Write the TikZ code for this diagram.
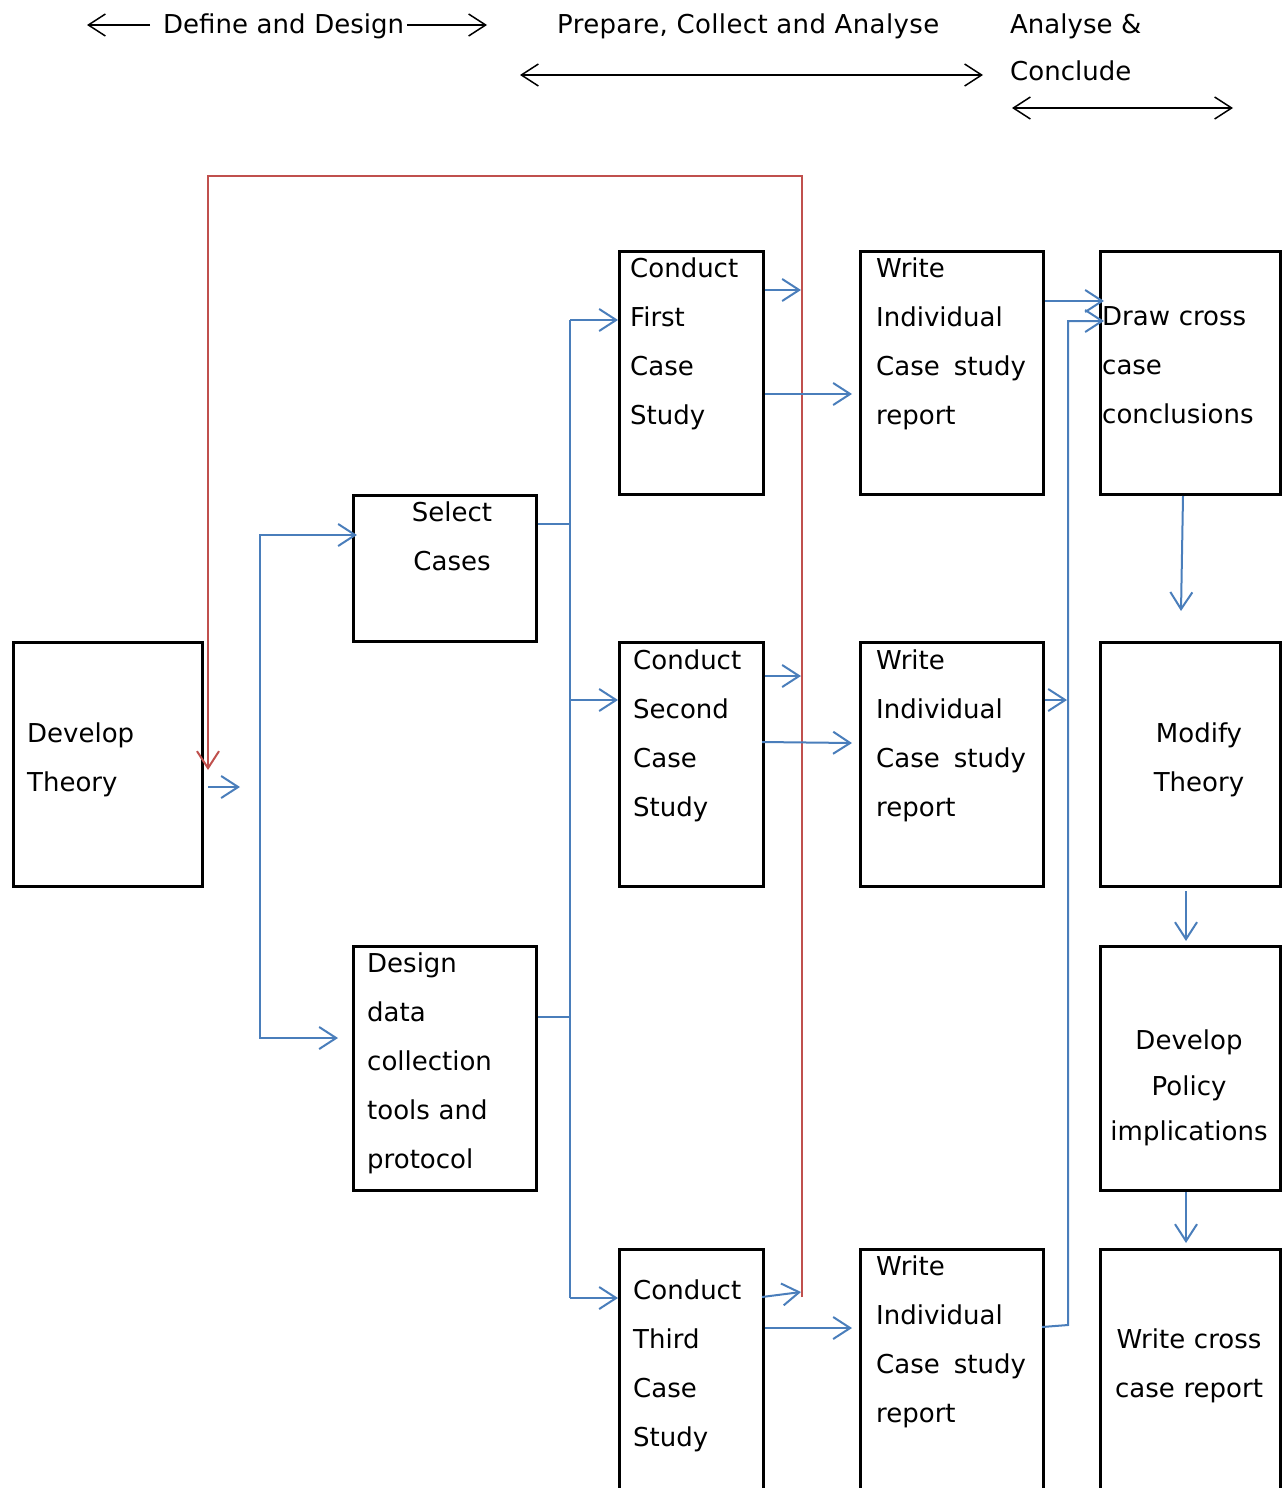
\documentclass[tikz,border=0pt]{standalone}
\usepackage{fontspec}
\setmainfont{DejaVu Sans}
\usetikzlibrary{arrows.meta}

\definecolor{flowblue}{RGB}{74,126,187}
\definecolor{loopred}{RGB}{192,80,77}

\tikzset{
  stage/.style={draw=black, line width=2.5pt, inner sep=0pt, anchor=north west},
  txt/.style={inner sep=0pt, anchor=base west, text width=210pt, align=left,
              font=\fontsize{26}{49}\selectfont},
  ctxt/.style={inner sep=0pt, anchor=base, text width=200pt, align=center,
               font=\fontsize{26}{49}\selectfont},
  head/.style={inner sep=0pt, anchor=base west, text width=420pt, align=left,
               font=\fontsize{26}{47}\selectfont},
  barb/.style={-{Straight Barb[length=17pt,width=22pt]}},
  link/.style={draw=flowblue, line width=2pt},
  flow/.style={link, barb},
  feedback/.style={draw=loopred, line width=2pt, barb},
  phase/.style={draw=black, line width=1.5pt},
  phasearrow/.style={phase, barb},
  phasespan/.style={phase, {Straight Barb[length=17pt,width=22pt]}-{Straight Barb[length=17pt,width=22pt]}},
}

\newcommand{\cs}{Case\hspace{14pt}study}

\begin{document}
\begin{tikzpicture}[x=1pt, y=-1pt]
\useasboundingbox (0,0) rectangle (1285,1488);
\clip (0,0) rectangle (1285,1488);

% ---------- phase headings ----------
\node[head] (ph1) at (163,33.5) {Define and Design};
\coordinate (ph1L1) at (150,25);  \coordinate (ph1L2) at (87,25);
\coordinate (ph1R1) at (407,25);  \coordinate (ph1R2) at (487,25);
\draw[phasearrow] (ph1L1) -- (ph1L2);
\draw[phasearrow] (ph1R1) -- (ph1R2);

\node[head] (ph2) at (557,33.5) {\addfontfeature{LetterSpace=1.4}Prepare, Collect and Analyse};
\coordinate (ph2A) at (520,75); \coordinate (ph2B) at (983,75);
\draw[phasespan] (ph2A) -- (ph2B);

\node[head] (ph3) at (1010,33.5) {Analyse \&\\Conclude};
\coordinate (ph3A) at (1012,108); \coordinate (ph3B) at (1233,108);
\draw[phasespan] (ph3A) -- (ph3B);

% ---------- boxes ----------
\node[stage, minimum width=189pt, minimum height=244pt] (dt) at (12,641) {};
\node[stage, minimum width=183pt, minimum height=146pt] (sc) at (352,494) {};
\node[stage, minimum width=183pt, minimum height=244pt] (dd) at (352,945) {};
\node[stage, minimum width=144pt, minimum height=243pt] (c1) at (618,250) {};
\node[stage, minimum width=144pt, minimum height=244pt] (c2) at (618,641) {};
\node[stage, minimum width=144pt, minimum height=260pt] (c3) at (618,1248) {};
\node[stage, minimum width=183pt, minimum height=243pt] (w1) at (859,250) {};
\node[stage, minimum width=183pt, minimum height=244pt] (w2) at (859,641) {};
\node[stage, minimum width=183pt, minimum height=260pt] (w3) at (859,1248) {};
\node[stage, minimum width=180pt, minimum height=243pt] (dc) at (1099,250) {};
\node[stage, minimum width=180pt, minimum height=244pt] (mt) at (1099,641) {};
\node[stage, minimum width=180pt, minimum height=244pt] (dp) at (1099,945) {};
\node[stage, minimum width=180pt, minimum height=260pt] (wc) at (1099,1248) {};

% ---------- box texts ----------
\node[txt] (dtT) at (27,742.5) {Develop\\Theory};
\node[ctxt] (scT) at (452,521.5) {Select\\Cases};
\node[txt] (ddT) at (367,972.5) {Design\\data\\collection\\tools and\\protocol};
\node[txt] (c1T) at (630,277.5) {Conduct\\First\\Case\\Study};
\node[txt] (c2T) at (633,669.5) {Conduct\\Second\\Case\\Study};
\node[txt] (c3T) at (633,1299.5) {Conduct\\Third\\Case\\Study};
\node[txt] (w1T) at (876,277.5) {Write\\Individual\\\cs\\report};
\node[txt] (w2T) at (876,669.5) {Write\\Individual\\\cs\\report};
\node[txt] (w3T) at (876,1275.5) {Write\\Individual\\\cs\\report};
\node[txt] (dcT) at (1102,325.5) {Draw cross\\case\\conclusions};
\node[ctxt] (mtT) at (1199,742.5) {Modify\\Theory};
\node[ctxt, font=\fontsize{26}{45.5}\selectfont] (dpT) at (1189,1049.5) {Develop\\Policy\\implications};
\node[ctxt] (wcT) at (1189,1348.5) {Write cross\\case report};

% ---------- junction points ----------
\coordinate (dtA) at (208,787);   \coordinate (dtB) at (240,787);
\coordinate (tL1) at (260,535);   \coordinate (tL2) at (260,1038);
\coordinate (scIn) at (357,535);  \coordinate (ddIn) at (338,1038);
\coordinate (scR) at (570,524);   \coordinate (ddR) at (570,1017);
\coordinate (tR1) at (570,320);   \coordinate (tR2) at (570,700);
\coordinate (tR3) at (570,1298);
\coordinate (r1) at (801,290);    \coordinate (w1In) at (852,394);
\coordinate (r2) at (801,676);    \coordinate (w2In) at (852,743);
\coordinate (c2Out) at (762,742);
\coordinate (c3Out) at (762,1297); \coordinate (r3) at (801,1292);
\coordinate (w3In) at (852,1328);
\coordinate (dcIn1) at (1104,301); \coordinate (w2R) at (1067,700);
\coordinate (w3Out) at (1042,1327); \coordinate (tW1) at (1068,1325);
\coordinate (tW2) at (1068,321);  \coordinate (dcIn2) at (1104,321);
\coordinate (dcOut) at (1183,496); \coordinate (mtIn) at (1181,611);
\coordinate (mtOut) at (1186,891); \coordinate (dpIn) at (1186,941);
\coordinate (dpOut) at (1186,1192); \coordinate (wcIn) at (1186,1243);
\coordinate (fbA) at (802,1297);  \coordinate (fbB) at (802,176);
\coordinate (fbC) at (208,176);   \coordinate (fbD) at (208,770);

% ---------- feedback loop ----------
\draw[feedback] (fbA) -- (fbB) -- (fbC) -- (fbD);

% ---------- flow connectors ----------
\draw[flow] (dtA) -- (dtB);
\draw[flow] (tL2) -- (tL1) -- (scIn);
\draw[flow] (tL1) -- (tL2) -- (ddIn);
\draw[link] (sc.east |- scR) -- (scR);
\draw[link] (dd.east |- ddR) -- (ddR);
\draw[link] (tR1) -- (tR3);
\draw[flow] (tR1) -- (c1.west |- tR1);
\draw[flow] (tR2) -- (c2.west |- tR2);
\draw[flow] (tR3) -- (c3.west |- tR3);

\draw[flow] (c1.east |- r1) -- (r1);
\draw[flow] (c1.east |- w1In) -- (w1In);
\draw[flow] (c2.east |- r2) -- (r2);
\draw[flow] (c2Out) -- (w2In);
\draw[flow] (c3Out) -- (r3);
\draw[flow] (c3.east |- w3In) -- (w3In);

\draw[flow] (w1.east |- dcIn1) -- (dcIn1);
\draw[flow] (w2.east |- w2R) -- (w2R);
\draw[flow] (w3Out) -- (tW1) -- (tW2) -- (dcIn2);

\draw[flow] (dcOut) -- (mtIn);
\draw[flow] (mtOut) -- (dpIn);
\draw[flow] (dpOut) -- (wcIn);
\end{tikzpicture}
\end{document}
